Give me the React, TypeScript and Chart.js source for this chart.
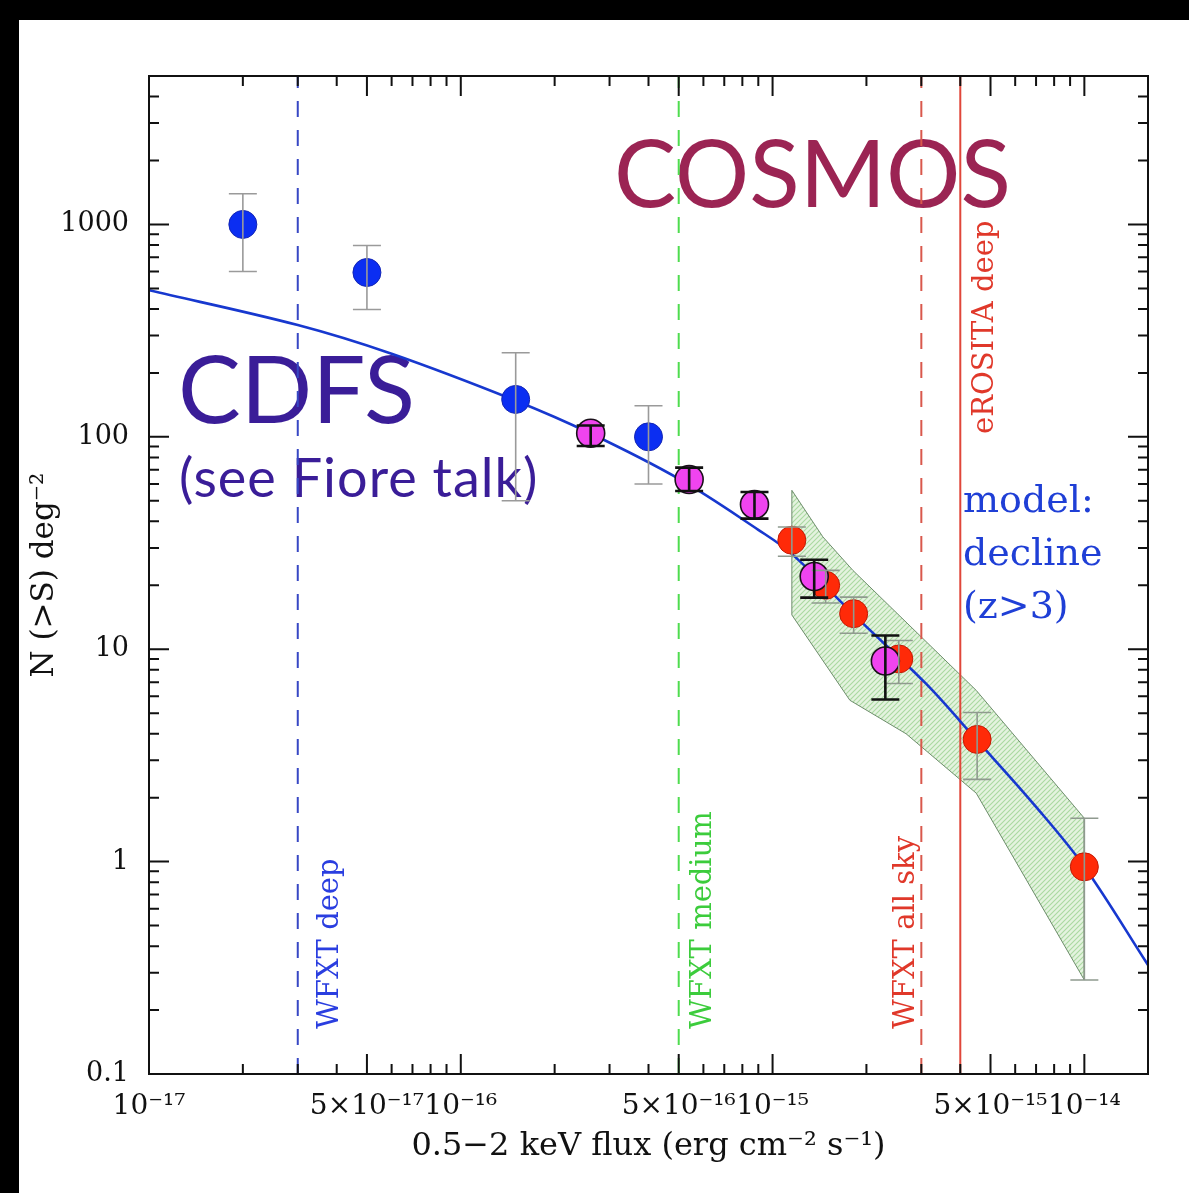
import React, { useEffect, useRef } from "react";
import { Chart, registerables } from "chart.js";

Chart.register(...registerables);

// ---- axis ranges -------------------------------------------------------
const X_MIN = 1e-17;
const X_MAX = 1.6e-14;
const Y_MIN = 0.1;
const Y_MAX = 5000;

// ---- labelled ticks ----------------------------------------------------
const xTickValues = [1e-17, 5e-17, 1e-16, 5e-16, 1e-15, 5e-15, 1e-14];
const xTickLabels = ["10⁻¹⁷", "5×10⁻¹⁷", "10⁻¹⁶", "5×10⁻¹⁶", "10⁻¹⁵", "5×10⁻¹⁵", "10⁻¹⁴"];
const yTickValues = [0.1, 1, 10, 100, 1000];
const yTickLabels = ["0.1", "1", "10", "100", "1000"];
const xDecades = [-17, -16, -15, -14];
const yDecades = [-1, 0, 1, 2, 3];
const xMinorMantissas = [2, 3, 4, 6, 7, 8, 9];
const yMinorMantissas = [2, 3, 4, 5, 6, 7, 8, 9];

const xTitle = "0.5−2 keV flux (erg cm⁻² s⁻¹)";
const yTitle = "N (>S) deg⁻²";

// ---- CDFS counts (blue) ------------------------------------------------
const cdfsFlux = [2.0e-17, 5.0e-17, 1.5e-16, 4.0e-16];
const cdfsN = [1000, 594, 150, 100];
const cdfsLo = [600, 398, 50, 60];
const cdfsHi = [1394, 796, 249, 140];

// ---- COSMOS counts (magenta) -------------------------------------------
const cosmosFlux = [2.61e-16, 5.4e-16, 8.75e-16, 1.36e-15, 2.3e-15];
const cosmosN = [104, 63, 48, 22, 8.8];
const cosmosLo = [90.5, 55.6, 41.2, 17.5, 5.8];
const cosmosHi = [113, 71.6, 55, 26.4, 11.6];

// ---- bright-end counts (red) -------------------------------------------
const brightFlux = [1.153e-15, 1.48e-15, 1.82e-15, 2.54e-15, 4.53e-15, 1.0e-14];
const brightN = [32.6, 20.0, 14.7, 9.0, 3.76, 0.945];
const brightLo = [27.4, 16.5, 11.9, 6.9, 2.44, 0.277];
const brightHi = [37.6, 23.5, 17.6, 11.0, 5.04, 1.6];

// ---- model: declining space density at z>3 -----------------------------
const modelFlux = [1e-17, 3e-17, 6e-17, 1.5e-16, 2.6e-16, 5e-16, 9e-16, 1.15e-15, 1.9e-15, 3.1e-15, 4.5e-15, 7e-15, 1e-14, 1.6e-14];
const modelN = [490, 336, 246, 148, 104, 63.5, 36.5, 28.2, 13.7, 6.9, 3.76, 1.81, 0.946, 0.326];

// ---- uncertainty band --------------------------------------------------
const bandUpperFlux = [1.153e-15, 1.45e-15, 1.81e-15, 4.5e-15, 1.0e-14];
const bandUpperN = [56, 33.8, 23.5, 6.4, 1.6];
const bandLowerFlux = [1.153e-15, 1.77e-15, 2.68e-15, 4.5e-15, 1.0e-14];
const bandLowerN = [14.5, 5.75, 4.0, 2.1, 0.277];

// ---- survey flux limits ------------------------------------------------
const surveyFlux = [3e-17, 5e-16, 3e-15, 4e-15];
const surveyNames = ["WFXT deep", "WFXT medium", "WFXT all sky", "eROSITA deep"];

// ---- annotations -------------------------------------------------------
const cosmosTitle = "COSMOS";
const cdfsTitle = "CDFS";
const cdfsNote = "(see Fiore talk)";
const modelNote = ["model:", "decline", "(z>3)"];

// styling of the survey limit lines and their labels
const surveyStyle = [
  { color: "#3747c4", text: "#2a3ee0", dash: [16, 13], dx: 40, y: 1029 },
  { color: "#4fdc4f", text: "#3ccc3c", dash: [16, 13], dx: 32, y: 1029 },
  { color: "#d9584c", text: "#e0382a", dash: [16, 13], dx: -7, y: 1029 },
  { color: "#e0463a", text: "#e0382a", dash: [], dx: 33, y: 434 },
];

const SERIF = "'DejaVu Serif', serif";

function pts(xs: number[], ys: number[]) {
  return xs.map((x, i) => ({ x, y: ys[i] }));
}

function makeHatch(): CanvasPattern | string {
  const c = document.createElement("canvas");
  c.width = 5;
  c.height = 5;
  const g = c.getContext("2d");
  if (!g) return "#d8eed3";
  g.fillStyle = "#e4f3df";
  g.fillRect(0, 0, 5, 5);
  g.strokeStyle = "#aad9a1";
  g.lineWidth = 1.1;
  g.beginPath();
  g.moveTo(0, 5);
  g.lineTo(5, 0);
  g.moveTo(-1, 1);
  g.lineTo(1, -1);
  g.moveTo(4, 6);
  g.lineTo(6, 4);
  g.stroke();
  return g.createPattern(c, "repeat") || "#d8eed3";
}

function drawErrorBars(ctx: CanvasRenderingContext2D, xs: any, ys: any, flux: number[], lo: number[], hi: number[], color: string, width: number, cap: number) {
  ctx.save();
  ctx.strokeStyle = color;
  ctx.lineWidth = width;
  flux.forEach((f, i) => {
    const px = xs.getPixelForValue(f);
    const p1 = ys.getPixelForValue(lo[i]);
    const p2 = ys.getPixelForValue(hi[i]);
    ctx.beginPath();
    ctx.moveTo(px, p1);
    ctx.lineTo(px, p2);
    ctx.moveTo(px - cap, p1);
    ctx.lineTo(px + cap, p1);
    ctx.moveTo(px - cap, p2);
    ctx.lineTo(px + cap, p2);
    ctx.stroke();
  });
  ctx.restore();
}

const annotations = {
  id: "annotations",
  beforeDatasetsDraw(chart: any) {
    const { ctx, scales } = chart;
    const xs = scales.x;
    ctx.save();
    ctx.textBaseline = "alphabetic";
    ctx.textAlign = "left";

    ctx.fillStyle = "#9b2453";
    ctx.font = "400 93px Lato, sans-serif";
    ctx.fillText(cosmosTitle, 614, 207);

    ctx.fillStyle = "#3a1d98";
    ctx.font = "400 94px Lato, sans-serif";
    ctx.fillText(cdfsTitle, 178, 423);
    ctx.font = "400 54px Lato, sans-serif";
    (ctx as any).letterSpacing = "1px";
    ctx.fillText(cdfsNote, 179, 497);
    (ctx as any).letterSpacing = "0px";

    ctx.fillStyle = "#1f3fd6";
    ctx.font = `38px ${SERIF}`;
    modelNote.forEach((line, i) => ctx.fillText(line, 963, 512 + i * 53));

    // rotated survey labels
    ctx.font = `29px ${SERIF}`;
    surveyFlux.forEach((f, i) => {
      const st = surveyStyle[i];
      const px = xs.getPixelForValue(f) + st.dx;
      ctx.save();
      ctx.translate(px, st.y);
      ctx.rotate(-Math.PI / 2);
      ctx.fillStyle = st.text;
      ctx.fillText(surveyNames[i], 0, 0);
      ctx.restore();
    });
    ctx.restore();
  },
  afterDatasetsDraw(chart: any) {
    const { ctx, chartArea: a, scales } = chart;
    const xs = scales.x;
    const ys = scales.y;

    drawErrorBars(ctx, xs, ys, cdfsFlux, cdfsLo, cdfsHi, "#9a9a9a", 1.6, 14);
    drawErrorBars(ctx, xs, ys, brightFlux, brightLo, brightHi, "#8f9a8f", 1.6, 14);
    drawErrorBars(ctx, xs, ys, cosmosFlux, cosmosLo, cosmosHi, "#111111", 2.6, 14);

    // frame with inward ticks on all four sides
    ctx.save();
    ctx.strokeStyle = "#111";
    ctx.lineWidth = 2;
    ctx.strokeRect(a.left, a.top, a.right - a.left, a.bottom - a.top);
    const tick = (px: number, len: number, horiz: boolean) => {
      ctx.beginPath();
      if (horiz) {
        ctx.moveTo(px, a.bottom);
        ctx.lineTo(px, a.bottom - len);
        ctx.moveTo(px, a.top);
        ctx.lineTo(px, a.top + len);
      } else {
        ctx.moveTo(a.left, px);
        ctx.lineTo(a.left + len, px);
        ctx.moveTo(a.right, px);
        ctx.lineTo(a.right - len, px);
      }
      ctx.stroke();
    };
    xTickValues.forEach((v) => tick(xs.getPixelForValue(v), 20, true));
    xDecades.forEach((d) =>
      xMinorMantissas.forEach((m) => {
        const v = m * Math.pow(10, d);
        if (v > X_MIN && v < X_MAX) tick(xs.getPixelForValue(v), 10, true);
      })
    );
    yTickValues.forEach((v) => tick(ys.getPixelForValue(v), 20, false));
    yDecades.forEach((d) =>
      yMinorMantissas.forEach((m) => {
        const v = m * Math.pow(10, d);
        if (v > Y_MIN && v < Y_MAX) tick(ys.getPixelForValue(v), 10, false);
      })
    );
    ctx.restore();
  },
  afterDraw(chart: any) {
    const { ctx } = chart;
    ctx.save();
    ctx.fillStyle = "#000";
    ctx.fillRect(0, 0, chart.width, 20);
    ctx.fillRect(0, 0, 19, chart.height);
    ctx.restore();
  },
};

export default function App() {
  const ref = useRef<HTMLCanvasElement | null>(null);

  useEffect(() => {
    const canvas = ref.current;
    if (!canvas) return;

    const bandPolygon = [
      ...pts(bandUpperFlux, bandUpperN),
      ...pts(bandLowerFlux, bandLowerN).reverse(),
    ];
    bandPolygon.push({ ...bandPolygon[0] });

    const surveyLines = surveyFlux.map((f, i) => ({
      type: "line" as const,
      data: [
        { x: f, y: Y_MIN },
        { x: f, y: Y_MAX },
      ],
      borderColor: surveyStyle[i].color,
      borderWidth: 2,
      borderDash: surveyStyle[i].dash,
      pointRadius: 0,
      fill: false,
      order: 8,
    }));

    const chart = new Chart(canvas, {
      type: "line",
      data: {
        datasets: [
          {
            data: bandPolygon,
            borderColor: "#6d8c6b",
            borderWidth: 1,
            backgroundColor: makeHatch() as any,
            fill: "shape" as any,
            pointRadius: 0,
            tension: 0,
            order: 10,
          },
          ...surveyLines,
          {
            data: pts(modelFlux, modelN),
            borderColor: "#1738cf",
            borderWidth: 2.6,
            pointRadius: 0,
            fill: false,
            tension: 0.35,
            order: 5,
          },
          {
            data: pts(cdfsFlux, cdfsN),
            showLine: false,
            pointRadius: 14,
            pointBackgroundColor: "#0b2ef2",
            pointBorderColor: "#1426b4",
            pointBorderWidth: 1,
            order: 3,
          },
          {
            data: pts(brightFlux, brightN),
            showLine: false,
            pointRadius: 14,
            pointBackgroundColor: "#ff2a08",
            pointBorderColor: "#c41a06",
            pointBorderWidth: 1,
            order: 2,
          },
          {
            data: pts(cosmosFlux, cosmosN),
            showLine: false,
            pointRadius: 14,
            pointBackgroundColor: "#f044ef",
            pointBorderColor: "#1a101a",
            pointBorderWidth: 1.6,
            order: 1,
          },
        ] as any,
      },
      options: {
        animation: false,
        responsive: false,
        devicePixelRatio: 1,
        events: [],
        layout: { padding: { top: 76, right: 41, bottom: 0, left: 0 } },
        plugins: { legend: { display: false }, tooltip: { enabled: false } },
        scales: {
          x: {
            type: "logarithmic",
            min: X_MIN,
            max: X_MAX,
            grid: { display: false, drawTicks: false },
            border: { display: false },
            afterBuildTicks: (s: any) => {
              s.ticks = xTickValues.map((value) => ({ value }));
            },
            afterFit: (s: any) => {
              s.height = 119;
            },
            ticks: {
              autoSkip: false,
              maxRotation: 0,
              minRotation: 0,
              padding: 16,
              color: "#111",
              font: { family: SERIF, size: 28 },
              callback: (_v: any, i: number) => xTickLabels[i],
            },
            title: {
              display: true,
              text: xTitle,
              color: "#111",
              font: { family: SERIF, size: 32 },
              padding: { top: 0, bottom: 27 },
            },
          },
          y: {
            type: "logarithmic",
            min: Y_MIN,
            max: Y_MAX,
            grid: { display: false, drawTicks: false },
            border: { display: false },
            afterBuildTicks: (s: any) => {
              s.ticks = yTickValues.map((value) => ({ value }));
            },
            afterFit: (s: any) => {
              s.width = 149;
            },
            ticks: {
              autoSkip: false,
              padding: 20,
              color: "#111",
              font: { family: SERIF, size: 27 },
              callback: (_v: any, i: number) => yTickLabels[i],
            },
            title: {
              display: true,
              text: yTitle,
              color: "#111",
              font: { family: SERIF, size: 31 },
              padding: { top: 26, bottom: 0 },
            },
          },
        },
      } as any,
      plugins: [annotations],
    });

    return () => chart.destroy();
  }, []);

  return (
    <div style={{ position: "absolute", left: 0, top: 0, width: 1189, height: 1193, background: "#fff" }}>
      <canvas ref={ref} width={1189} height={1193} style={{ display: "block" }} />
    </div>
  );
}
